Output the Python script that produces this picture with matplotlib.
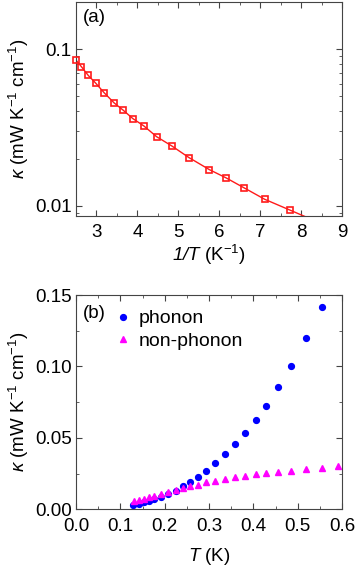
import numpy as np
import matplotlib
matplotlib.use("Agg")
import matplotlib.pyplot as plt
from matplotlib.ticker import MultipleLocator, LogLocator, NullFormatter, FixedLocator

plt.rcParams['font.family'] = ['Liberation Sans', 'DejaVu Sans']
plt.rcParams['mathtext.fontset'] = 'custom'
plt.rcParams['mathtext.rm'] = 'Liberation Sans'
plt.rcParams['mathtext.it'] = 'Liberation Sans:italic'
plt.rcParams['mathtext.sf'] = 'Liberation Sans:italic'

# Panel (a): kappa vs 1/T
invT = [2.50, 2.63, 2.80, 2.98, 3.19, 3.43, 3.65, 3.89, 4.16, 4.47, 4.84,
        5.26, 5.76, 6.16, 6.61, 7.11, 7.72]
kappa_a = [0.0851, 0.0774, 0.0679, 0.0607, 0.0526, 0.0454, 0.0408, 0.0360,
           0.0323, 0.0276, 0.0241, 0.0203, 0.0170, 0.0151, 0.0130, 0.0110, 0.0094]

# Panel (b): kappa vs T
T_ph = [0.129, 0.141, 0.153, 0.164, 0.175, 0.192, 0.208, 0.225, 0.241, 0.258,
        0.275, 0.293, 0.314, 0.337, 0.359, 0.382, 0.405, 0.428, 0.455, 0.485,
        0.518, 0.554]
k_ph = [0.0033, 0.0040, 0.0049, 0.0061, 0.0070, 0.0089, 0.0105, 0.0126, 0.0161,
        0.0194, 0.0229, 0.0271, 0.0324, 0.0390, 0.0460, 0.0537, 0.0625, 0.0725,
        0.0854, 0.1003, 0.1197, 0.1416]
T_nph = [0.131, 0.141, 0.153, 0.164, 0.175, 0.192, 0.208, 0.225, 0.241, 0.258,
         0.275, 0.293, 0.314, 0.337, 0.359, 0.382, 0.405, 0.428, 0.455, 0.485,
         0.518, 0.554, 0.590]
k_nph = [0.0061, 0.0065, 0.0075, 0.0084, 0.0091, 0.0110, 0.0124, 0.0138, 0.0149,
         0.0161, 0.0173, 0.0191, 0.0201, 0.0215, 0.0226, 0.0236, 0.0247, 0.0254,
         0.0261, 0.0271, 0.0282, 0.0292, 0.0301]

fs = 13.5
lfs = 14
fig = plt.figure(figsize=(3.6, 5.67), dpi=100)
W, H = 360, 567
ax1 = fig.add_axes([76 / W, 1 - 216 / H, 266 / W, 214 / H])
ax2 = fig.add_axes([76 / W, 1 - 509.3 / H, 266 / W, 214.3 / H])

red = '#ff1a1a'
# guide line: through the data, extended using the last two points' log-slope
lx = np.log10(kappa_a)
slope_end = (lx[-1] - lx[-2]) / (invT[-1] - invT[-2])
x_line = list(invT) + [8.4]
y_line = list(lx) + [lx[-1] + slope_end * (8.4 - invT[-1])]
ax1.plot(x_line, 10 ** np.array(y_line), color=red, lw=1.0, zorder=2)
ax1.plot(invT, kappa_a, ls='none', marker='s', ms=4.8, mfc='none', mec=red,
         mew=1.2, zorder=3, clip_on=False)
ax1.set_yscale('log')
ax1.set_xlim(2.5, 9)
ax1.set_ylim(0.0086, 0.2)
ax1.xaxis.set_major_locator(MultipleLocator(1))
ax1.xaxis.set_minor_locator(MultipleLocator(0.5))
ax1.yaxis.set_major_locator(FixedLocator([0.01, 0.1]))
ax1.set_yticklabels(['0.01', '0.1'])
ax1.yaxis.set_minor_locator(LogLocator(base=10, subs=np.arange(2, 10)))
ax1.yaxis.set_minor_formatter(NullFormatter())
ax1.set_xlabel(r'$\mathsf{1/T}$ (K$^{-1}$)', fontsize=fs, labelpad=1)
ax1.set_ylabel(r'$\kappa$ (mW K$^{-1}$ cm$^{-1}$)', fontsize=fs, labelpad=3)
ax1.text(0.025, 0.965, '(a)', transform=ax1.transAxes, fontsize=fs, va='top', ha='left')

ax2.plot(T_ph, k_ph, ls='none', marker='o', ms=4.2, color='#0000ff', label='phonon')
ax2.plot(T_nph, k_nph, ls='none', marker='^', ms=4.8, color='#ff00ff', label='non-phonon')
ax2.set_xlim(0, 0.6)
ax2.set_ylim(0, 0.15)
ax2.xaxis.set_major_locator(MultipleLocator(0.1))
ax2.xaxis.set_minor_locator(MultipleLocator(0.05))
ax2.yaxis.set_major_locator(MultipleLocator(0.05))
ax2.yaxis.set_minor_locator(MultipleLocator(0.025))
ax2.xaxis.set_major_formatter(plt.FuncFormatter(lambda v, p: f'{v:.1f}'))
ax2.yaxis.set_major_formatter(plt.FuncFormatter(lambda v, p: f'{v:.2f}'))
ax2.set_xlabel(r'$\mathit{T}$ (K)', fontsize=fs, labelpad=8)
ax2.set_ylabel(r'$\kappa$ (mW K$^{-1}$ cm$^{-1}$)', fontsize=fs, labelpad=3)
ax2.text(0.025, 0.955, '(b)', transform=ax2.transAxes, fontsize=fs, va='top', ha='left')
ax2.legend(loc='upper left', bbox_to_anchor=(0.095, 0.985), frameon=False,
           fontsize=lfs, handlelength=1.0, handletextpad=0.3, borderaxespad=0.2,
           labelspacing=0.25)

for ax in (ax1, ax2):
    ax.tick_params(which='both', direction='in', top=True, right=True,
                   labelsize=fs, color='#444444')
    ax.tick_params(axis='x', which='major', pad=6)
    ax.tick_params(axis='y', which='major', pad=3)
    ax.tick_params(which='major', length=4, width=0.8)
    ax.tick_params(which='minor', length=2, width=0.6)
    for s in ax.spines.values():
        s.set_linewidth(0.8)
        s.set_color('#444444')

fig.savefig('out.png', dpi=100)
